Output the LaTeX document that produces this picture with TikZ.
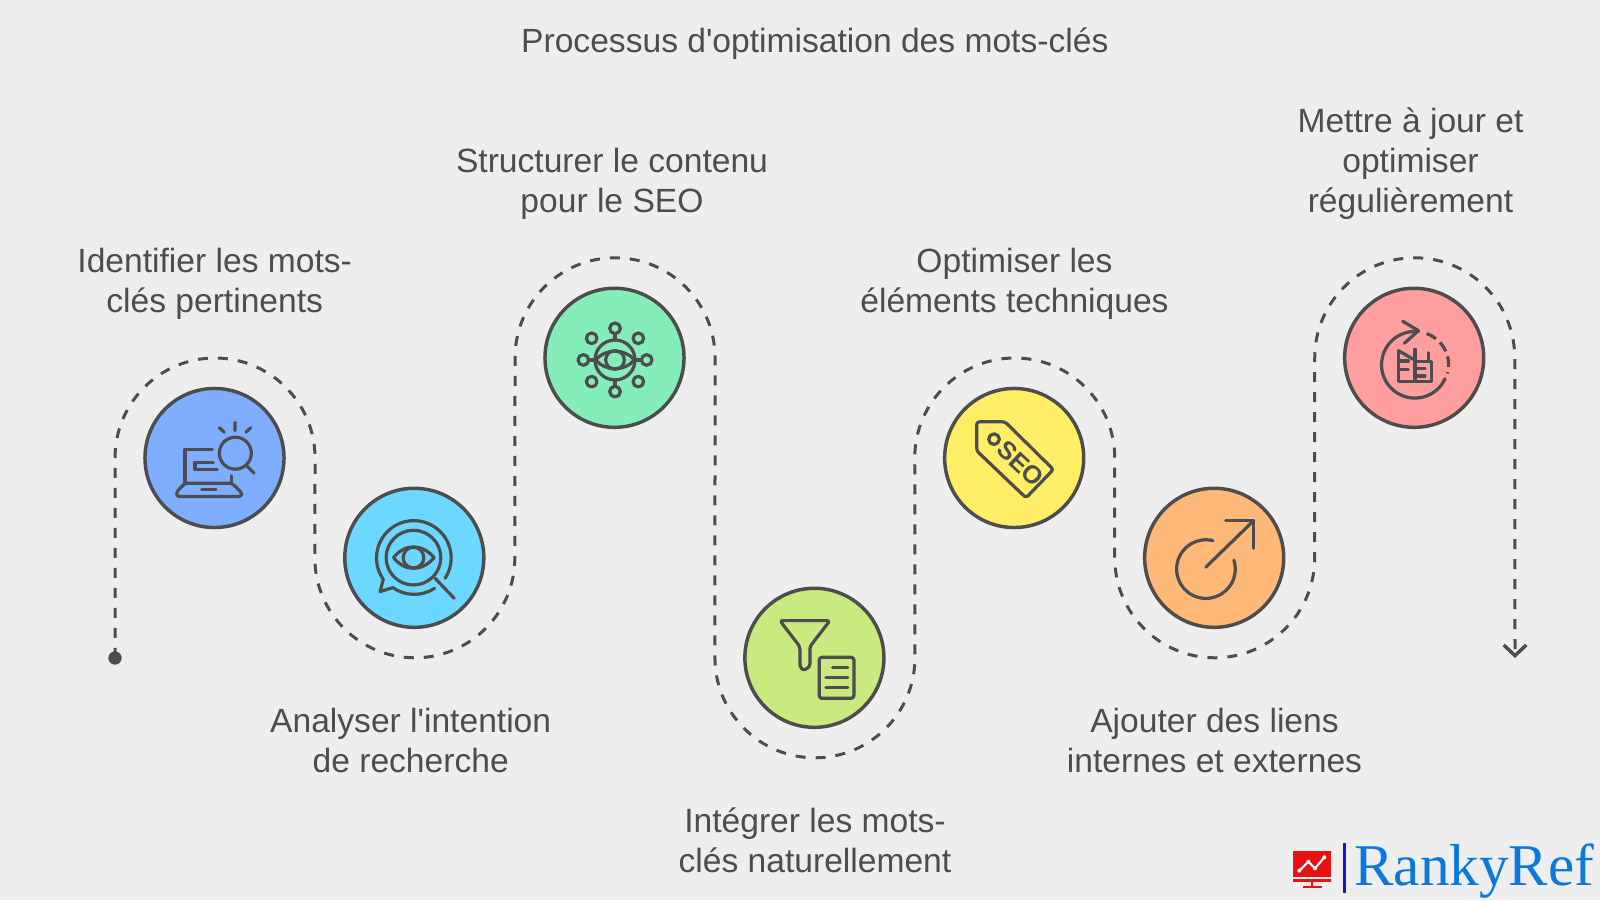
\documentclass[tikz,border=0pt]{standalone}
\usepackage{fontspec}
\newfontfamily\labfont{Liberation Sans}
\newfontfamily\logofont{Liberation Serif}
\usetikzlibrary{arrows.meta}
\definecolor{bgc}{HTML}{EEEEEE}
\definecolor{ink}{HTML}{4D4D4D}
\definecolor{logoblue}{HTML}{0A78DC}
\definecolor{logobar}{HTML}{1B10D8}
\definecolor{logored}{HTML}{E81010}
\definecolor{fa}{HTML}{7FADFF}
\definecolor{fb}{HTML}{6CD8FF}
\definecolor{fc}{HTML}{85EDB8}
\definecolor{fd}{HTML}{C8EA7E}
\definecolor{fe}{HTML}{FFEE66}
\definecolor{ff}{HTML}{FFB877}
\definecolor{fg}{HTML}{FF9E9E}
\tikzset{
  disc/.style={circle,draw=ink,line width=2.6pt,minimum size=104.3pt,inner sep=0pt},
  lab/.style={text=ink,font=\labfont\fontsize{25.2pt}{30pt}\selectfont,align=center,inner sep=0pt},
  flow/.style={draw=ink,line width=2.25pt,dash pattern=on 7.5pt off 7.5pt},
  ico/.style={draw=ink,line width=2.4pt,line cap=round,line join=round},
  zoomed/.style={x=.25pt,y=-.25pt}
}
\begin{document}
\begin{tikzpicture}[x=.75pt,y=.75pt]
\path[use as bounding box,fill=bgc] (0,0) rectangle (1600,900);
% discs
\node[disc,fill=fa] (c1) at (214.5,442) {};
\node[disc,fill=fb] (c2) at (414.3,342.2) {};
\node[disc,fill=fc] (c3) at (614.5,542.2) {};
\node[disc,fill=fd] (c4) at (814.4,242.2) {};
\node[disc,fill=fe] (c5) at (1014.2,442) {};
\node[disc,fill=ff] (c6) at (1214.2,342.2) {};
\node[disc,fill=fg] (c7) at (1414.2,542.2) {};
% flow
\node[circle,fill=ink,inner sep=0pt,minimum size=10pt] (start) at (115,242) {};
\coordinate (finish) at (1515,242);
\draw[flow,-{Straight Barb[length=8pt,width=17pt,line width=2.6pt]}]
  (start.center) -- ([xshift=-74.6pt]c1.center) arc[start angle=180,end angle=0,radius=75pt]
  -- ([xshift=-74.6pt]c2.center) arc[start angle=180,end angle=360,radius=75pt]
  -- ([xshift=-74.6pt]c3.center) arc[start angle=180,end angle=0,radius=75pt]
  -- ([xshift=-74.6pt]c4.center) arc[start angle=180,end angle=360,radius=75pt]
  -- ([xshift=-74.6pt]c5.center) arc[start angle=180,end angle=0,radius=75pt]
  -- ([xshift=-74.6pt]c6.center) arc[start angle=180,end angle=360,radius=75pt]
  -- ([xshift=-74.6pt]c7.center) arc[start angle=180,end angle=0,radius=75pt]
  -- (finish);
% labels
\node[lab] (title) at (814.8,856) {Processus d'optimisation des mots-clés};
\node[lab] (l1) at (214.7,616) {Identifier les mots-\\clés pertinents};
\node[lab] (l2) at (410.7,160) {Analyser l'intention\\de recherche};
\node[lab] (l3) at (612,716) {Structurer le contenu\\pour le SEO};
\node[lab] (l4) at (815,60) {Intégrer les mots-\\clés naturellement};
\node[lab] (l5) at (1014.5,616) {Optimiser les\\éléments techniques};
\node[lab] (l6) at (1214.5,160) {Ajouter des liens\\internes et externes};
\node[lab] (l7) at (1410.5,736) {Mettre à jour et\\optimiser\\régulièrement};
% icon 1
\begin{scope}[shift={(c1.center)},zoomed,shift={(-253.5,-264.5)},ico]
\draw (305,318)--(305,340);
\draw (165,340)--(165,238)--(248,238);
\draw[rounded corners=2pt] (165,340)--(305,340)--(335,368)--(335,380)--(140,380)--(140,366)--cycle;
\draw (250,278)--(195,278)--(195,298)--(262,298);
\draw (215,358)--(258,358);
\draw (316,250) circle[radius=48];
\draw (350,288)--(372,310);
\draw (315,158)--(315,182) (268,174)--(283,187) (362,174)--(348,187);
\end{scope}
% icon 2
\begin{scope}[shift={(c2.center)},zoomed,shift={(-852.5,-563.5)},ico]
\draw (945,625) arc[start angle=33,end angle=-215,radius=112]
  --(750,665)--(788,653) arc[start angle=125,end angle=57,radius=112];
\draw (850,563) circle[radius=82];
\draw (915,625)--(972,685);
\draw (790,563) .. controls (825,520) and (875,520) .. (912,563) .. controls (875,606) and (825,606) .. cycle;
\draw (850,563) circle[radius=31];
\end{scope}
% icon 3
\begin{scope}[shift={(c3.center)},zoomed,shift={(-253.5,-233.5)},ico]
\foreach \p in {(255,145),(185,175),(325,175),(160,240),(350,240),(185,305),(325,305),(255,335)}
  \draw \p circle[radius=16];
\draw (255,240) circle[radius=60];
\draw (197,240) .. controls (225,205) and (285,205) .. (313,240) .. controls (285,275) and (225,275) .. cycle;
\draw (255,240) circle[radius=28];
\draw (255,161)--(255,180) (255,300)--(255,319) (176,240)--(197,240) (313,240)--(334,240);
\end{scope}
% icon 4
\begin{scope}[shift={(c4.center)},zoomed,shift={(-253.5,-833.5)},ico]
\draw[rounded corners=2pt] (150,722)--(300,722)--(240,800)--(240,860)--(220,872)--(210,860)--(210,800)--cycle;
\draw[rounded corners=2pt] (268,832) rectangle (372,955);
\draw (308,863)--(354,863) (288,893)--(354,893) (288,923)--(354,923);
\end{scope}
% icon 5
\begin{scope}[shift={(c5.center)},zoomed,shift={(-852.5,-233.5)},ico]
\draw[rounded corners=2pt] (740,125)--(825,125)--(970,268)--(888,353)--(740,212)--cycle;
\draw (792,177) circle[radius=16];
\node[text=ink,rotate=-43,inner sep=0pt,font=\labfont\bfseries\fontsize{19pt}{19pt}\selectfont] (seo) at (872,250) {SEO};
\end{scope}
% icon 6
\begin{scope}[shift={(c6.center)},zoomed,shift={(-253.5,-833.5)},ico]
\draw (250,782) arc[start angle=-76,end angle=-378,radius=88];
\draw (228,862)--(372,722);
\draw (288,722)--(372,722)--(372,805);
\end{scope}
% icon 7
\begin{scope}[shift={(c7.center)},zoomed,shift={(-852.5,-233.5)},ico]
\draw (865,155) arc[start angle=-84,end angle=-335,radius=100];
\draw[dash pattern=on 8pt off 4pt,line cap=butt] (890,161) arc[start angle=-70,end angle=15,radius=100];
\draw (818,124)--(865,152)--(823,190);
\draw (805,212)--(805,305)--(905,305)--(905,245)--(855,245);
\draw (805,212)--(850,238);
\draw (855,208)--(855,305) (895,218)--(895,245);
\draw (805,243)--(835,243) (805,268)--(835,268) (860,265)--(885,265) (860,288)--(885,288);
\end{scope}
% logo
\begin{scope}[x=.25pt,y=-.25pt,shift={(960pt,52.5pt)}]
\fill[logored] (40,63) rectangle (152,142);
\fill[logored] (40,146) rectangle (152,155);
\draw[logored,line width=1.4pt] (95,155)--(95,170) (68,171)--(125,171);
\draw[white,line width=1.6pt] (58,122)--(85,95)--(105,115)--(133,82);
\foreach \p in {(58,122),(85,95),(105,115),(133,82)} \fill[white] \p circle[radius=6];
\draw[logobar,line width=2.5pt] (193,40)--(193,190);
\node[anchor=base west,inner sep=0pt,text=logoblue,font=\logofont\fontsize{44.4pt}{50pt}\selectfont] (logo) at (222,168) {RankyRef};
\end{scope}
\end{tikzpicture}
\end{document}
